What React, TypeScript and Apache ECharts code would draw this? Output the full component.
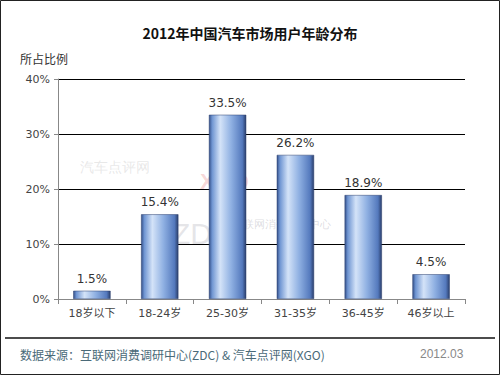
import React, { useEffect, useRef } from "react";
import * as echarts from "echarts";

const categories = ["18岁以下", "18-24岁", "25-30岁", "31-35岁", "36-45岁", "46岁以上"];
const shares = [1.5, 15.4, 33.5, 26.2, 18.9, 4.5];
const titleText = "2012年中国汽车市场用户年龄分布";
const yName = "所占比例";
const sourceText = "数据来源：互联网消费调研中心(ZDC) & 汽车点评网(XGO)";
const dateText = "2012.03";

export default function App() {
  const ref = useRef<HTMLDivElement>(null);
  useEffect(() => {
    document.body.style.margin = "0";
    const chart = echarts.init(ref.current!, null, { renderer: "svg" });
    const barColor = new echarts.graphic.LinearGradient(0, 0, 1, 0, [
      { offset: 0, color: "#34508a" },
      { offset: 0.08, color: "#6f95d2" },
      { offset: 0.3, color: "#d4e3f8" },
      { offset: 0.6, color: "#8fb0e2" },
      { offset: 0.9, color: "#5479bd" },
      { offset: 1, color: "#2b3f6c" },
    ]);
    chart.setOption({
      animation: false,
      backgroundColor: "#ffffff",
      textStyle: { fontFamily: "'DejaVu Sans', 'Noto Sans CJK SC', sans-serif" },
      title: {
        text: titleText,
        left: "center",
        top: 21,
        textStyle: { fontSize: 14, fontWeight: "bold", color: "#111", fontFamily: "'Noto Sans CJK SC', sans-serif" },
      },
      grid: { left: 58, right: 35, top: 79, bottom: 76 },
      xAxis: {
        type: "category",
        data: categories,
        axisLine: { lineStyle: { color: "#888" } },
        axisTick: { show: true, alignWithLabel: false, lineStyle: { color: "#888" } },
        axisLabel: { color: "#444", fontSize: 11, margin: 9, fontFamily: "'DejaVu Sans', 'Noto Sans CJK SC', sans-serif" },
      },
      yAxis: {
        type: "value",
        min: 0,
        max: 40,
        interval: 10,
        axisLine: { show: true, lineStyle: { color: "#888" } },
        axisTick: { show: true, length: 4, inside: false, lineStyle: { color: "#888" } },
        axisLabel: { formatter: "{value}%", color: "#444", fontSize: 11, margin: 8 },
        splitLine: { lineStyle: { color: "#000", width: 1 } },
      },
      series: [
        {
          type: "bar",
          data: shares,
          barWidth: "55%",
          itemStyle: { color: barColor, borderColor: "#2b3f6c", borderWidth: 0.5 },
          label: { show: true, position: "top", formatter: "{c}%", color: "#333", fontSize: 12, distance: 6 },
        },
      ],
      graphic: [
        { type: "text", left: 20, top: 52, style: { text: yName, fontSize: 12, fill: "#333", fontFamily: "'Noto Sans CJK SC', sans-serif" } },
        { type: "text", left: 80, top: 160, z: 0, style: { text: "汽车点评网", fontSize: 14, fill: "rgba(190,190,190,0.35)" } },
        { type: "text", left: 200, top: 170, z: 0, style: { text: "XGO", fontSize: 22, fontWeight: "bold", fill: "rgba(230,120,120,0.3)" } },
        { type: "text", left: 172, top: 218, z: 0, style: { text: "ZDC", fontSize: 30, fill: "rgba(180,180,190,0.35)" } },
        { type: "text", left: 232, top: 218, z: 0, style: { text: "互联网消费调研中心", fontSize: 11, fill: "rgba(180,180,190,0.45)" } },
        { type: "line", shape: { x1: 5, y1: 338, x2: 495, y2: 338 }, style: { stroke: "#111", lineWidth: 1.5 } },
        { type: "text", left: 20, top: 348, style: { text: sourceText, fontSize: 12, fill: "#4a6a78", fontFamily: "'Noto Sans CJK SC', sans-serif" } },
        { type: "text", left: 420, top: 348, style: { text: dateText, fontSize: 12, fill: "#888" } },
        { type: "rect", shape: { x: 0.5, y: 0.5, width: 499, height: 374 }, style: { fill: "none", stroke: "#222", lineWidth: 1 } },
      ],
    });
    return () => chart.dispose();
  }, []);
  return <div ref={ref} style={{ width: 500, height: 375 }} />;
}
